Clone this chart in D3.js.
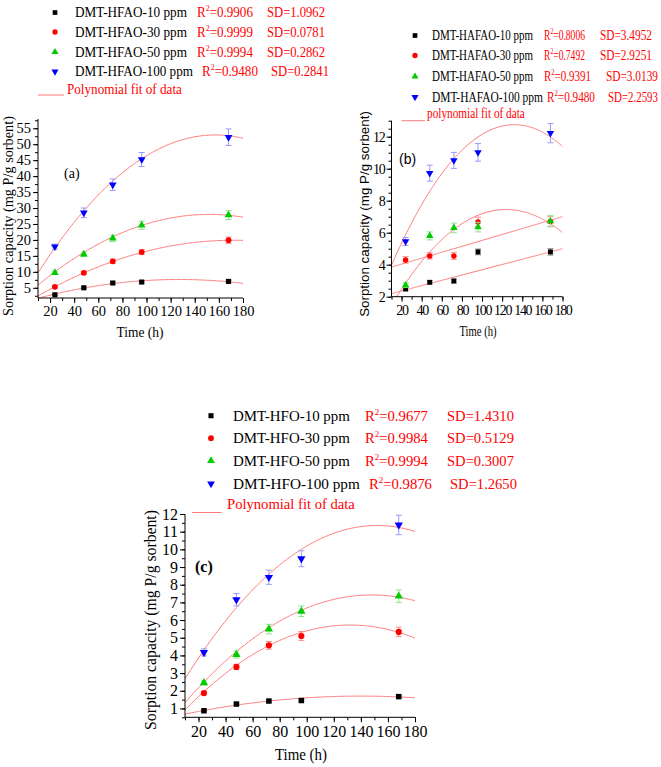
<!DOCTYPE html>
<html><head><meta charset="utf-8">
<script src="https://cdn.jsdelivr.net/npm/d3@7"></script>
<style>body{margin:0;background:#fff}svg{display:block}</style>
</head><body>
<script>
// ---------- data ----------
const times = [24, 48, 72, 96, 168];

const namesA = ["DMT-HFAO-10 ppm", "DMT-HFAO-30 ppm", "DMT-HFAO-50 ppm", "DMT-HFAO-100 ppm"];
const r2A = ["0.9906", "0.9999", "0.9994", "0.9480"];
const sdA = ["1.0962", "0.0781", "0.2862", "0.2841"];
const a10 = [2.8, 5.0, 6.5, 6.8, 7.0];
const a30 = [5.3, 9.7, 13.3, 16.2, 19.9];
const a50 = [9.7, 15.5, 20.5, 24.6, 27.8];
const a100 = [17.9, 28.5, 37.3, 45.2, 52.2];
const errA10 = [0.25, 0.3, 0.35, 0.35, 0.4];
const errA30 = [0.4, 0.5, 0.7, 0.8, 1.0];
const errA50 = [0.5, 0.7, 1.0, 1.3, 1.4];
const errA100 = [0.8, 1.5, 1.8, 2.2, 2.6];
// polynomial fit coefficients c0 + c1*t + c2*t^2
const fitA = [[0.6645, 0.10922, -0.00043], [0.227, 0.22876, -0.000665], [2.586, 0.3344, -0.0011], [3.602, 0.628, -0.002]];

const namesB = ["DMT-HAFAO-10 ppm", "DMT-HAFAO-30 ppm", "DMT-HAFAO-50 ppm", "DMT-HAFAO-100 ppm"];
const r2B = ["0.8006", "0.7492", "0.9391", "0.9480"];
const sdB = ["3.4952", "2.9251", "3.0139", "2.2593"];
const b10 = [2.48, 2.9, 2.98, 4.8, 4.8];
const b30 = [4.3, 4.55, 4.55, 6.67, 6.7];
const b50 = [2.72, 5.8, 6.3, 6.35, 6.72];
const b100 = [5.45, 9.72, 10.52, 11.02, 12.22];
const errB10 = [0.1, 0.1, 0.12, 0.18, 0.2];
const errB30 = [0.2, 0.2, 0.22, 0.3, 0.3];
const errB50 = [0.15, 0.25, 0.3, 0.3, 0.35];
const errB100 = [0.25, 0.5, 0.5, 0.55, 0.6];
const fitB = [[2.035, 0.01647, 0], [3.665, 0.01853, 0], [0.377, 0.11408, -0.00046], [2.47, 0.15576, -0.00059]];

const namesC = ["DMT-HFO-10 ppm", "DMT-HFO-30 ppm", "DMT-HFO-50 ppm", "DMT-HFO-100 ppm"];
const r2C = ["0.9677", "0.9984", "0.9994", "0.9876"];
const sdC = ["1.4310", "0.5129", "0.3007", "1.2650"];
const c10 = [0.87, 1.25, 1.42, 1.45, 1.67];
const c30 = [1.87, 3.35, 4.57, 5.1, 5.33];
const c50 = [2.45, 4.05, 5.49, 6.5, 7.35];
const c100 = [4.17, 7.15, 8.42, 9.47, 11.38];
const errC10 = [0.05, 0.06, 0.07, 0.07, 0.08];
const errC30 = [0.1, 0.15, 0.22, 0.25, 0.27];
const errC50 = [0.12, 0.2, 0.27, 0.3, 0.35];
const errC100 = [0.2, 0.35, 0.4, 0.45, 0.55];
const fitC = [[0.516, 0.01691, -0.0000604], [0.092, 0.085272, -0.000323], [0.411, 0.09472, -0.00032], [1.415, 0.13072, -0.00043]];

const xTicks = [20, 40, 60, 80, 100, 120, 140, 160, 180];
const yTicksA = [5, 10, 15, 20, 25, 30, 35, 40, 45, 50, 55];
const yTicksB = [2, 4, 6, 8, 10, 12];
const yTicksC = [1, 2, 3, 4, 5, 6, 7, 8, 9, 10, 11, 12];

// ---------- style ----------
const markColors = ["#000000", "#ff0000", "#00cc00", "#0000ff"];
const errColors = ["#8c8c8c", "#ff8c8c", "#8ce68c", "#9a9aff"];
const fitColor = "#ff7a7a";
const shapes = [d3.symbolSquare, d3.symbolCircle, d3.symbolTriangle, d3.symbolTriangle];
const SERIF = "'Liberation Serif','Times New Roman',serif";
const SANS = "'Liberation Sans',Arial,sans-serif";

const W = 661, H = 767;
const svg = d3.select("body").append("svg").attr("width", W).attr("height", H);

function sym(g, i, x, y, size) {
  g.append("path")
    .attr("d", d3.symbol().type(shapes[i]).size(size)())
    .attr("transform", `translate(${x},${y})` + (i === 3 ? " rotate(180)" : ""))
    .attr("fill", markColors[i]);
}
// text drawn at (x,y), horizontally scaled so that its width equals targetW
function scaledText(parent, x, y, opts, build) {
  const g = parent.append("g");
  const t = g.append("text").style("font-family", opts.font).style("font-size", opts.fs + "px")
    .attr("text-anchor", opts.anchor || "start").attr("fill", opts.fill || "#000")
    .attr("font-weight", opts.bold ? "bold" : "normal");
  build(t);
  const len = t.node().getComputedTextLength();
  const s = opts.w && len > 0 ? opts.w / len : 1;
  g.attr("transform", `translate(${x},${y})` + (opts.rot ? ` rotate(${opts.rot})` : "") + ` scale(${s},1)`);
  return t;
}

function panel(o) {
  const g = svg.append("g");
  const x = d3.scaleLinear().domain([10, 180]).range(o.xr);
  const y = d3.scaleLinear().domain(o.yd).range(o.yr);
  const id = "clip" + o.key;
  svg.append("clipPath").attr("id", id).append("rect")
    .attr("x", o.xr[0]).attr("y", o.yr[1]).attr("width", o.xr[1] - o.xr[0]).attr("height", o.yr[0] - o.yr[1]);

  // fits
  const fg = g.append("g").attr("clip-path", `url(#${id})`);
  const ts = d3.range(10, 180.01, 1);
  o.fits.forEach(c => {
    fg.append("path")
      .datum(ts)
      .attr("d", d3.line().x(t => x(t)).y(t => y(c[0] + c[1] * t + c[2] * t * t)))
      .attr("fill", "none").attr("stroke", fitColor).attr("stroke-width", 1);
  });

  // error bars + points
  o.series.forEach((vals, i) => {
    const eg = g.append("g").attr("stroke", errColors[i]).attr("stroke-width", 1);
    vals.forEach((v, j) => {
      const cx = x(times[j]), e = o.errs[i][j];
      eg.append("line").attr("x1", cx).attr("x2", cx).attr("y1", y(v - e)).attr("y2", y(v + e));
      eg.append("line").attr("x1", cx - 3).attr("x2", cx + 3).attr("y1", y(v - e)).attr("y2", y(v - e));
      eg.append("line").attr("x1", cx - 3).attr("x2", cx + 3).attr("y1", y(v + e)).attr("y2", y(v + e));
    });
    vals.forEach((v, j) => sym(g, i, x(times[j]), y(v), o.msize));
  });

  // axes
  const xa = g.append("g").attr("transform", `translate(0,${o.yr[0]})`)
    .call(d3.axisBottom(x).tickValues(xTicks).tickSize(5).tickPadding(3).tickFormat(d3.format("d")));
  const xm = g.append("g").attr("transform", `translate(0,${o.yr[0]})`)
    .call(d3.axisBottom(x).tickValues(d3.range(10, 181, 10)).tickSize(3).tickFormat(""));
  const ya = g.append("g").attr("transform", `translate(${o.xr[0]},0)`)
    .call(d3.axisLeft(y).tickValues(o.yTicks).tickSize(5).tickPadding(2).tickFormat(d3.format("d")));
  const ym = g.append("g").attr("transform", `translate(${o.xr[0]},0)`)
    .call(d3.axisLeft(y).tickValues(d3.range(o.minor[0], o.minor[1] + 1e-9, o.minor[2])).tickSize(3).tickFormat(""));
  [xa, xm, ya, ym].forEach(a => {
    a.attr("font-family", null).attr("font-size", null);
    a.select(".domain").attr("stroke", "#000").attr("stroke-width", 1);
    a.selectAll(".tick line").attr("stroke", "#000");
  });
  [xm, ym].forEach(a => a.select(".domain").remove());
  [xa, ya].forEach(a => a.selectAll("text").style("font-family", o.tickFont).style("font-size", o.tickSize + "px")
    .attr("fill", "#000").style("letter-spacing", (o.tickLS || 0) + "px"));
  xa.select(".domain").attr("d", `M${o.xr[0]},0H${o.xr[1]}`);
  ya.select(".domain").attr("d", `M0,${o.yr[0]}V${o.yr[1]}`);

  // axis titles
  scaledText(g, o.xt[0], o.xt[1], { font: o.titleFont, fs: o.xtSize, anchor: "middle", w: o.xtLen },
    t => t.text("Time (h)"));
  scaledText(g, o.yt[0], o.yt[1], { font: o.yTitleFont, fs: o.ytSize, anchor: "middle", w: o.ytLen, rot: -90 },
    t => t.text("Sorption capacity (mg P/g sorbent)"));
  // panel label
  g.append("text").attr("x", o.lab[0]).attr("y", o.lab[1]).style("font-family", o.labFont)
    .style("font-size", o.labSize + "px").attr("font-weight", o.labBold ? "bold" : "normal").text(o.label);

  // legend
  const L = o.leg;
  o.names.forEach((n, i) => {
    const ry = L.rows[i];
    sym(g, i, L.mx, ry - L.fs * 0.32, L.msize);
    scaledText(g, L.tx, ry, { font: L.font, fs: L.fs, w: L.nameLen[i] }, t => t.text(n));
    scaledText(g, L.rx[i], ry, { font: L.font, fs: L.fs, w: L.r2Len[i], fill: "#ff0000" }, t => {
      t.append("tspan").text("R");
      t.append("tspan").style("font-size", (L.fs * 0.6) + "px").attr("dy", -L.fs * 0.4).text("2");
      t.append("tspan").attr("dy", L.fs * 0.4).text("=" + o.r2[i]);
    });
    scaledText(g, L.sx[i], ry, { font: L.font, fs: L.fs, w: L.sdLen[i], fill: "#ff0000" }, t => t.text("SD=" + o.sd[i]));
  });
  g.append("line").attr("x1", L.line[0]).attr("x2", L.line[1]).attr("y1", L.line[2]).attr("y2", L.line[2])
    .attr("stroke", fitColor).attr("stroke-width", 1);
  scaledText(g, L.fitText[0], L.fitText[1], { font: L.font, fs: L.fs, w: L.fitLen, fill: "#ff0000" }, t => t.text(L.fitLabel));
}

panel({
  key: "a", xr: [38, 243], yd: [1.8, 57.9], yr: [298, 119], yTicks: yTicksA, minor: [2.5, 57.5, 2.5],
  series: [a10, a30, a50, a100], errs: [errA10, errA30, errA50, errA100], fits: fitA, msize: 26,
  tickFont: SERIF, tickSize: 14.5, titleFont: SERIF, yTitleFont: SERIF, xtSize: 14, ytSize: 14.4,
  xt: [140, 337], xtLen: 47, yt: [13, 216], ytLen: 200, lab: [64, 178], labFont: SERIF, labSize: 14, label: "(a)",
  names: namesA, r2: r2A, sd: sdA,
  leg: { mx: 55, tx: 75, rows: [17, 36.5, 56.5, 76], rx: [197, 197, 197, 202], sx: [267, 267, 267, 271],
    nameLen: [112, 112, 112, 118], r2Len: [56, 56, 56, 56], sdLen: [58, 58, 58, 58],
    font: SERIF, fs: 14, msize: 22, line: [38, 64, 95], fitText: [67, 94], fitLen: 115, fitLabel: "Polynomial fit of data" }
});

panel({
  key: "b", xr: [391.5, 562.5], yd: [2, 13], yr: [296.7, 120.7], yTicks: yTicksB, minor: [2, 13, 0.5],
  series: [b10, b30, b50, b100], errs: [errB10, errB30, errB50, errB100], fits: fitB, msize: 24,
  tickFont: SERIF, tickSize: 14, tickLS: -1.3, titleFont: SERIF, yTitleFont: SANS, xtSize: 14, ytSize: 13.5,
  xt: [478, 336], xtLen: 37, yt: [369, 214], ytLen: 206, lab: [399, 164], labFont: SANS, labSize: 14, label: "(b)",
  names: namesB, r2: r2B, sd: sdB,
  leg: { mx: 415, tx: 432, rows: [40, 60, 81, 101.5], rx: [544, 544, 544, 547], sx: [600, 600, 606, 608],
    nameLen: [101, 101, 101, 111], r2Len: [41, 41, 47, 48], sdLen: [52, 52, 52, 50],
    font: SERIF, fs: 14, msize: 22, line: [401.5, 425, 120.7], fitText: [427, 118], fitLen: 98, fitLabel: "polynomial fit of data" }
});

panel({
  key: "c", xr: [185, 415], yd: [0.5, 12], yr: [717.3, 514], yTicks: yTicksC, minor: [0.5, 12, 0.5],
  series: [c10, c30, c50, c100], errs: [errC10, errC30, errC50, errC100], fits: fitC, msize: 30,
  tickFont: SERIF, tickSize: 16, titleFont: SERIF, yTitleFont: SERIF, xtSize: 16, ytSize: 16,
  xt: [301, 760], xtLen: 52, yt: [156, 620], ytLen: 220, lab: [195, 572], labFont: SERIF, labSize: 16, labBold: true, label: "(c)",
  names: namesC, r2: r2C, sd: sdC,
  leg: { mx: 211, tx: 233, rows: [420.5, 443, 465.5, 488.5], rx: [365, 365, 365, 369], sx: [447, 447, 447, 450],
    nameLen: [117, 117, 117, 127], r2Len: [63, 63, 63, 63], sdLen: [67, 67, 67, 67],
    font: SERIF, fs: 15, msize: 26, line: [192, 221.5, 512.5], fitText: [227, 508.5], fitLen: 128, fitLabel: "Polynomial fit of data" }
});
</script>
</body></html>
